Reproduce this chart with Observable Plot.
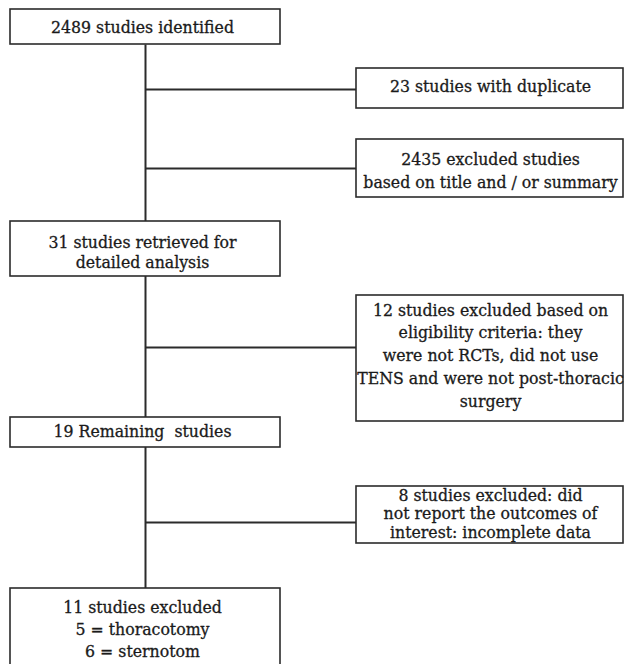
<!DOCTYPE html>
<html>
<head>
<meta charset="utf-8">
<script src="https://cdn.jsdelivr.net/npm/d3@7"></script>
<script src="https://cdn.jsdelivr.net/npm/@observablehq/plot@0.6"></script>
<style>
  html, body { margin: 0; padding: 0; background: #fff; }
  #chart svg { display: block; }
</style>
</head>
<body>
<div id="chart"></div>
<script>
// Main flow steps (left column)
const mainSteps = [
  "2489 studies identified",
  "31 studies retrieved for\ndetailed analysis",
  "19 Remaining  studies",
  "11 studies excluded\n5 = thoracotomy\n6 = sternotom"
];
// Exclusion boxes (right column)
const exclusions = [
  "23 studies with duplicate",
  "2435 excluded studies\nbased on title and / or summary",
  "12 studies excluded based on\neligibility criteria: they\nwere not RCTs, did not use\nTENS and were not post-thoracic\nsurgery",
  "8 studies excluded: did\nnot report the outcomes of\ninterest: incomplete data"
];

// Layout (pixel space)
const mainCol = {x1: 10, x2: 280, cx: 142};
const sideCol = {x1: 356, x2: 623, cx: 490};
const mainY = [[9, 44], [221, 276], [417, 447], [588, 700]];
const mainTextY = [27, 252, 431, 629];
const mainSpacing = [20, 20, 20, 22];
const sideY = [[68, 108], [139, 197], [295, 421], [486, 543]];
const sideTextY = [86, 170, 355, 513];
const sideSpacing = [20, 23, 22.7, 18.5];
const connectorY = [89, 168, 347, 522];
const spineX = 145;

const mainBoxes = mainSteps.map((label, i) => ({label, x1: mainCol.x1, x2: mainCol.x2, y1: mainY[i][0], y2: mainY[i][1], cx: mainCol.cx, cy: mainTextY[i], sp: mainSpacing[i]}));
const sideBoxes = exclusions.map((label, i) => ({label, x1: sideCol.x1, x2: sideCol.x2, y1: sideY[i][0], y2: sideY[i][1], cx: sideCol.cx, cy: sideTextY[i], sp: sideSpacing[i]}));
const boxes = [...mainBoxes, ...sideBoxes];
const lines = boxes.flatMap(b => {
  const parts = b.label.split("\n");
  return parts.map((t, i) => ({text: t, x: b.cx, y: b.cy + (i - (parts.length - 1) / 2) * b.sp}));
});
const connectors = connectorY.map(y => ({x1: spineX, x2: sideCol.x1, y1: y, y2: y}));
const spine = [{x1: spineX, x2: spineX, y1: mainY[0][1], y2: mainY[3][0]}];

const chart = Plot.plot({
  width: 624,
  height: 664,
  margin: 0,
  x: {domain: [0, 624], range: [0, 624], axis: null},
  y: {domain: [0, 664], range: [0, 664], axis: null},
  style: {background: "#fff"},
  marks: [
    Plot.link([...spine, ...connectors], {x1: "x1", x2: "x2", y1: "y1", y2: "y2", stroke: "#2b2b2b", strokeWidth: 2}),
    Plot.rect(boxes, {x1: "x1", x2: "x2", y1: "y1", y2: "y2", fill: "#fff", stroke: "#2b2b2b", strokeWidth: 1.6}),
    Plot.text(lines, {
      x: "x",
      y: "y",
      text: "text",
      fontFamily: "DejaVu Serif Condensed, DejaVu Serif, serif",
      fontSize: 17.5,
      fill: "#1a1a1a",
      stroke: "#1a1a1a",
      strokeWidth: 0.3,
      lineAnchor: "middle"
    })
  ]
});
document.getElementById("chart").append(chart);
</script>
</body>
</html>
